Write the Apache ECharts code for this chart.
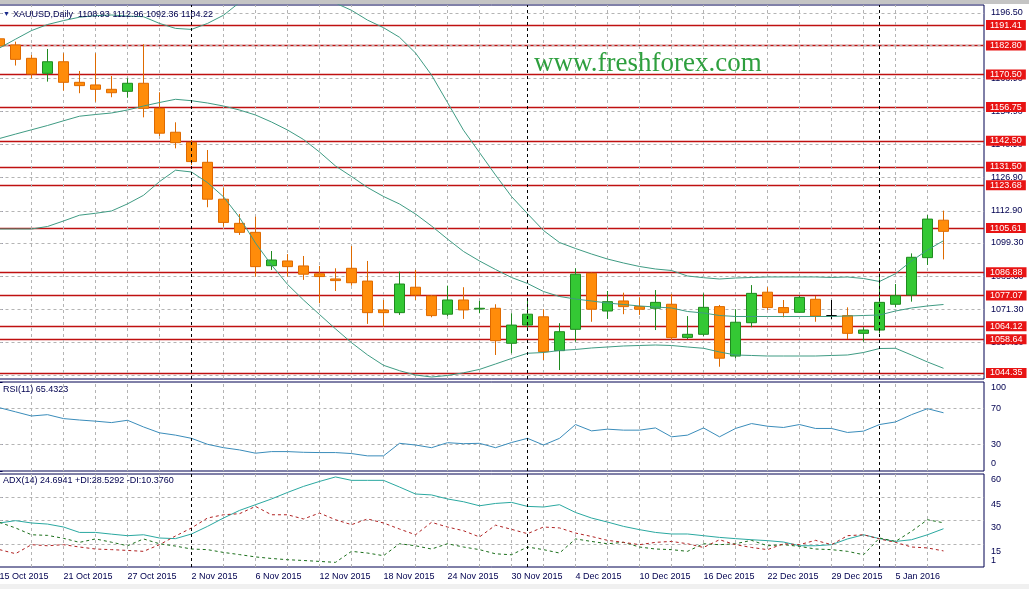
<!DOCTYPE html>
<html><head><meta charset="utf-8">
<script src="https://cdn.jsdelivr.net/npm/echarts@6/dist/echarts.min.js"></script>
<style>html,body{margin:0;padding:0;background:#fff;}#c{width:1029px;height:589px;}</style>
</head><body><div id="c"></div>
<script>
const dates = ['15 Oct 2015','16 Oct 2015','19 Oct 2015','20 Oct 2015','21 Oct 2015','22 Oct 2015','23 Oct 2015','26 Oct 2015','27 Oct 2015','28 Oct 2015','29 Oct 2015','30 Oct 2015',
'2 Nov 2015','3 Nov 2015','4 Nov 2015','5 Nov 2015','6 Nov 2015','9 Nov 2015','10 Nov 2015','11 Nov 2015','12 Nov 2015','13 Nov 2015','16 Nov 2015','17 Nov 2015','18 Nov 2015','19 Nov 2015','20 Nov 2015','23 Nov 2015','24 Nov 2015','25 Nov 2015','26 Nov 2015','27 Nov 2015','30 Nov 2015',
'1 Dec 2015','2 Dec 2015','3 Dec 2015','4 Dec 2015','7 Dec 2015','8 Dec 2015','9 Dec 2015','10 Dec 2015','11 Dec 2015','14 Dec 2015','15 Dec 2015','16 Dec 2015','17 Dec 2015','18 Dec 2015','21 Dec 2015','22 Dec 2015','23 Dec 2015','24 Dec 2015','28 Dec 2015','29 Dec 2015','30 Dec 2015','31 Dec 2015',
'4 Jan 2016','5 Jan 2016','6 Jan 2016','7 Jan 2016','8 Jan 2016'];
const opens  = [1185.6,1183.0,1177.35,1171.0,1175.9,1167.2,1166.1,1164.25,1163.4,1166.8,1156.2,1146.1,1141.85,1133.4,1117.8,1107.6,1103.8,1089.7,1091.7,1089.6,1086.3,1084.1,1088.6,1083.2,1071.0,1069.85,1080.6,1076.9,1069.2,1075.2,1071.4,1071.7,1056.9,1064.6,1068.1,1053.8,1062.8,1086.5,1070.55,1074.8,1072.4,1071.7,1073.4,1059.4,1060.7,1072.4,1051.5,1065.6,1078.5,1072.0,1070.0,1075.5,1068.6,1068.6,1061.1,1062.5,1073.4,1077.3,1093.1,1108.93];
const closes = [1182.6,1176.9,1170.7,1175.9,1167.2,1165.8,1164.25,1162.8,1166.8,1156.2,1145.7,1141.7,1133.7,1117.8,1108.0,1103.8,1089.3,1092.1,1089.3,1086.1,1085.1,1083.4,1082.5,1069.85,1069.85,1081.96,1077.3,1068.6,1075.2,1071.0,1071.7,1058.0,1064.6,1069.2,1053.35,1061.8,1086.1,1071.3,1074.5,1072.4,1071.3,1074.2,1059.3,1060.7,1072.1,1050.6,1065.8,1078.0,1072.0,1069.85,1076.3,1068.4,1068.6,1061.1,1062.5,1074.2,1077.0,1093.25,1109.4,1104.22];
const lows   = [1181.5,1174.3,1168.9,1167.5,1163.7,1162.6,1159.0,1160.9,1160.7,1152.4,1144.5,1139.3,1132.3,1114.4,1106.2,1102.7,1085.1,1087.9,1085.1,1083.7,1073.8,1079.0,1081.25,1065.1,1063.9,1068.9,1075.2,1067.9,1068.4,1067.2,1069.6,1051.96,1052.7,1062.5,1049.85,1045.6,1057.6,1066.0,1067.2,1069.2,1068.9,1062.5,1058.3,1058.7,1060.0,1047.0,1050.6,1063.7,1071.0,1067.9,1069.85,1066.0,1067.05,1058.7,1057.6,1061.1,1072.1,1074.5,1090.0,1092.36];
const highs  = [1187.5,1184.4,1178.75,1181.3,1179.5,1172.0,1179.5,1169.9,1168.9,1183.3,1163.0,1150.3,1142.8,1138.6,1122.8,1111.55,1110.4,1095.9,1094.6,1093.8,1089.6,1088.6,1098.0,1091.7,1075.2,1087.2,1087.9,1077.3,1081.25,1080.6,1074.8,1073.4,1069.6,1075.5,1071.3,1065.4,1088.6,1086.8,1079.0,1078.3,1076.35,1079.4,1077.7,1068.4,1078.0,1073.1,1071.3,1081.5,1080.6,1075.2,1076.9,1076.9,1075.2,1072.1,1063.7,1086.5,1081.96,1094.9,1111.1,1112.96];
const bbUpper  = [1181.71,1185.43,1189.07,1191.63,1193.29,1194.72,1195.35,1195.66,1195.18,1194.93,1192.1,1190.0,1189.56,1192.1,1195.56,1200.93,1207.49,1210.87,1212.3,1210.88,1206.43,1200.69,1197.64,1193.5,1190.3,1186.24,1179.6,1170.3,1158.67,1146.97,1137.51,1128.03,1118.94,1111.68,1104.57,1099.5,1096.96,1094.64,1092.52,1090.84,1089.37,1088.3,1087.67,1085.34,1084.63,1084.07,1084.5,1084.71,1084.93,1084.93,1084.93,1084.93,1084.71,1084.92,1084.29,1083.02,1086.31,1091.68,1096.34,1100.26];
const bbMiddle = [1143.46,1145.32,1147.14,1148.95,1150.94,1152.88,1153.6,1154.24,1155.5,1157.19,1158.67,1160.03,1159.43,1158.46,1157.19,1155.5,1153.39,1150.43,1147.05,1143.04,1137.75,1131.84,1127.4,1122.75,1118.95,1115.78,1111.55,1106.48,1100.98,1095.7,1091.69,1088.09,1084.71,1082.18,1078.79,1076.68,1075.62,1074.78,1073.93,1073.3,1072.67,1072.24,1071.82,1070.34,1069.71,1068.65,1068.23,1068.23,1068.23,1068.23,1068.23,1068.23,1068.23,1068.44,1068.65,1068.86,1070.55,1071.82,1072.67,1073.3];
const bbLower  = [1105.21,1105.21,1105.21,1106.27,1108.59,1111.04,1111.85,1112.82,1115.82,1119.45,1125.24,1130.06,1129.3,1124.82,1118.82,1110.07,1099.29,1089.99,1081.8,1075.2,1069.07,1062.99,1057.16,1052.0,1047.6,1045.32,1043.5,1042.66,1043.29,1044.43,1045.87,1048.15,1050.48,1052.68,1053.01,1053.86,1054.28,1054.92,1055.34,1055.76,1055.97,1056.18,1055.97,1055.34,1054.79,1053.23,1051.96,1051.75,1051.53,1051.53,1051.53,1051.53,1051.75,1051.96,1053.01,1054.7,1054.79,1051.96,1049.0,1046.34];
const rsi = [71.1,66.5,61.8,63.3,58.9,57.3,56.0,54.4,57.0,49.5,42.9,40.3,36.7,30.0,26.2,23.7,20.0,21.8,21.8,21.0,20.7,20.7,19.6,17.0,17.0,31.1,29.2,26.2,31.8,30.7,31.1,26.2,32.0,36.7,29.2,36.7,52.2,45.1,47.0,45.9,45.9,48.4,38.4,40.3,48.4,38.4,47.8,53.3,50.3,48.9,52.2,47.8,47.8,43.3,44.8,52.2,55.1,63.3,70.0,65.43];
const adx = [28.4,29.9,28.4,27.7,25.8,22.3,22.3,21.2,20.2,20.8,18.7,18.3,21.3,26.2,31.6,36.5,40.2,43.9,48.1,52.0,55.2,58.1,55.9,55.9,55.9,51.6,47.1,46.5,43.9,42.1,39.5,41.0,41.7,39.1,38.7,40.2,35.2,31.6,29.0,26.2,24.1,22.3,21.3,21.3,20.2,19.1,18.3,17.6,17.0,16.1,13.7,13.7,14.4,18.1,20.8,18.3,16.5,17.6,20.8,24.69];
const plusDI = [28.8,25.2,20.8,20.4,18.5,15.9,18.1,16.0,13.7,18.1,15.0,13.5,11.6,11.2,9.4,8.0,6.5,5.5,4.7,4.2,3.6,3.0,10.1,9.0,7.3,15.0,13.7,11.6,15.0,12.9,11.2,8.5,7.9,12.9,11.2,9.0,18.1,16.5,15.0,15.9,12.9,11.6,11.2,10.1,15.0,14.4,15.0,17.2,13.7,14.4,13.3,11.6,11.2,10.1,7.9,18.7,16.5,23.0,30.5,28.53];
const minusDI = [11.2,8.6,14.4,13.7,14.4,12.9,11.6,11.2,10.7,10.1,14.4,20.0,25.2,31.6,33.7,34.4,39.1,33.7,33.7,31.0,34.8,30.5,27.3,31.0,28.4,24.5,20.8,28.8,25.8,23.4,19.4,27.0,24.3,21.5,25.8,25.2,21.9,19.7,17.2,15.9,14.4,15.9,16.5,15.0,12.6,17.6,14.4,12.6,11.2,15.0,14.4,17.2,14.4,20.2,20.8,18.1,15.9,12.9,12.3,10.38];
const levels = [1191.41,1182.80,1170.50,1156.75,1142.50,1131.50,1123.68,1105.61,1086.88,1077.07,1064.12,1058.64,1044.35];
const lastPrice = 1104.22;
const priceTicks = [1196.5,1182.7,1168.9,1154.9,1140.9,1126.9,1112.9,1099.3,1085.3,1071.3,1057.3,1043.3];
const rsiTicks = [0,30,70,100];
const rsiGrid = [30,70];
const adxGridTicks = [15,30,45];
const adxLabelTicks = [1,15,30,45,60];
const labelIdx = [0,4,8,12,16,20,24,28,32,36,40,44,48,52,56];

const FONT = 'Liberation Sans';
const NAVY = '#000050';
const XMAX = 61.53125;
const P_MIN = 1041.81, P_MAX = 1199.88;
const sepIdx = dates.map((d,i)=> (i>0 && d.split(' ')[1] !== dates[i-1].split(' ')[1]) ? i : -1).filter(i=>i>=0);
const vGridIdx = dates.map((d,i)=>i).filter(i=>i%2===0 && i>0);

const candleData = dates.map((d,i)=>{
  const it = {value:[i, opens[i], closes[i], lows[i], highs[i]]};
  if (opens[i] === closes[i]) it.itemStyle = {color:'#000', color0:'#000', borderColor:'#000', borderColor0:'#000'};
  return it;
});
const pts = arr => arr.map((v,i)=>[i,v]);
// vertical grid segments, broken with nulls, spanning the axis range
function vSegs(lo, hi){
  const out = [];
  vGridIdx.forEach(i=>{ out.push([i, lo]); out.push([i, hi]); out.push([i, null]); });
  return out;
}
const vGridStyle = {color:'#b4b4b4', type:[3,3], width:1};
function vGridSeries(gi, lo, hi){
  return {type:'line', xAxisIndex:gi, yAxisIndex:gi, data:vSegs(lo,hi), showSymbol:false, connectNulls:false,
    silent:true, z:2, lineStyle:vGridStyle};
}
const sepMark = {silent:true, symbol:'none', animation:false, z:6, label:{show:false},
  lineStyle:{color:'#000', type:[3,3], width:1}, data: sepIdx.map(i=>({xAxis:i}))};
function gridMark(hVals){
  return {silent:true, symbol:'none', animation:false, z:2, label:{show:false},
    lineStyle:{color:'#b4b4b4', type:[3,3], width:1},
    data: hVals.map(v=>({yAxis:v}))};
}

function xAx(gi, show){
  return {type:'value', gridIndex:gi, min:0, max:XMAX, interval:2,
    axisLine:{show:false}, axisTick:{show:false},
    axisLabel:{show:show, customValues: labelIdx, formatter: v => dates[v] || '', align:'left', margin:5,
      color:NAVY, fontSize:9, fontFamily:FONT, hideOverlap:false},
    splitLine:{show:false}};
}
function yAx(gi, min, max, tickVals, labelVals, fmt, rich){
  return {type:'value', gridIndex:gi, position:'right', min:min, max:max,
    axisLine:{show:true, lineStyle:{color:NAVY}},
    axisTick:{show:true, length:3, customValues: tickVals, lineStyle:{color:NAVY}},
    axisLabel:{customValues: labelVals, formatter: fmt, margin:7, color:NAVY, fontSize:9, fontFamily:FONT, hideOverlap:false, rich: rich||{}},
    splitLine:{show:false}};
}
const rs = (p) => ({padding:p, color:NAVY, fontSize:9, lineHeight:9, fontFamily:FONT});
const gridBase = {left:-0.5, width:984.5, show:true, backgroundColor:'transparent', borderColor:NAVY, borderWidth:1, containLabel:false, outerBoundsMode:'none'};

const option = {
  animation:false,
  backgroundColor:'#ffffff',
  title:[
    {text:'▼', left:3, top:11, padding:0, textStyle:{fontSize:7, color:'#1a2a8c', fontWeight:'normal'}},
    {text:'XAUUSD,Daily  1108.93 1112.96 1092.36 1104.22', left:13, top:10, padding:0, textStyle:{fontSize:9, color:NAVY, fontFamily:FONT, fontWeight:'normal'}},
    {text:'RSI(11) 65.4323', left:3, top:385, padding:0, textStyle:{fontSize:9, color:NAVY, fontFamily:FONT, fontWeight:'normal'}},
    {text:'ADX(14) 24.6941 +DI:28.5292 -DI:10.3760', left:3, top:476, padding:0, textStyle:{fontSize:9, color:NAVY, fontFamily:FONT, fontWeight:'normal'}},
    {text:'www.freshforex.com', left:534, top:50, padding:0, textStyle:{fontSize:27, color:'#2e9f3e', fontFamily:'Liberation Serif', fontWeight:'normal'}}
  ],
  graphic:[
    {type:'rect', left:0, top:0, shape:{width:1029, height:4}, style:{fill:'#c4c4c4'}, silent:true},
    {type:'rect', left:0, top:584, shape:{width:1029, height:5}, style:{fill:'#f0f0f0'}, silent:true}
  ],
  grid:[
    Object.assign({top:5, height:374}, gridBase),
    Object.assign({top:382, height:89}, gridBase),
    Object.assign({top:474, height:93}, gridBase)
  ],
  xAxis:[xAx(0,false), xAx(1,false), xAx(2,true)],
  yAxis:[
    yAx(0, P_MIN, P_MAX, priceTicks, priceTicks, v=>v.toFixed(2)),
    yAx(1, 0, 100, rsiTicks, rsiTicks, v=> v===100 ? '{t|100}' : (v===0 ? '{b|0}' : '{m|'+v+'}'),
        {t:rs([12,0,0,0]), b:rs([0,0,14,0]), m:rs([0,0,0,0])}),
    yAx(2, 0, 60, adxGridTicks, adxLabelTicks, v=> v===1 ? '{b|1}' : (v===60 ? '{t|60}' : '{d|'+v+'}'),
        {t:rs([12,0,0,0]), d:rs([15,0,0,0]), b:rs([0,0,9,0])})
  ],
  series:[
    vGridSeries(0, P_MIN, P_MAX),
    vGridSeries(1, 0, 100),
    vGridSeries(2, 0, 60),
    {type:'candlestick', xAxisIndex:0, yAxisIndex:0, barWidth:10, z:3,
      itemStyle:{color:'#34c834', color0:'#ff8c0a', borderColor:'#1f8a1f', borderColor0:'#de6a00', borderWidth:1},
      data:candleData,
      markLine:{silent:true, symbol:'none', animation:false, z:2,
        lineStyle:{color:'#bf1010', width:1.3, type:'solid'},
        label:{position:'end', distance:2, formatter:p=>p.value.toFixed(2), backgroundColor:'#e81414', color:'#fff',
          padding:[1,4,0,4], fontSize:9, fontFamily:FONT},
        data:[{yAxis:lastPrice, lineStyle:{opacity:0}, label:{backgroundColor:'#000040', color:'#fff'}}].concat(levels.map(v=>({yAxis:v})))
      }
    },
    {type:'line', xAxisIndex:0, yAxisIndex:0, data:pts(bbUpper), showSymbol:false, z:4, lineStyle:{color:'#3f9b83', width:1}, markLine:gridMark(priceTicks)},
    {type:'line', xAxisIndex:0, yAxisIndex:0, data:pts(bbMiddle), showSymbol:false, z:4, lineStyle:{color:'#3f9b83', width:1}, markLine:sepMark},
    {type:'line', xAxisIndex:0, yAxisIndex:0, data:pts(bbLower), showSymbol:false, z:4, lineStyle:{color:'#3f9b83', width:1}},
    {type:'line', xAxisIndex:1, yAxisIndex:1, data:pts(rsi), showSymbol:false, z:4, lineStyle:{color:'#3a8cba', width:1}, markLine:sepMark},
    {type:'line', xAxisIndex:1, yAxisIndex:1, data:pts(rsi), showSymbol:false, z:1, lineStyle:{opacity:0}, markLine:gridMark(rsiGrid)},
    {type:'line', xAxisIndex:2, yAxisIndex:2, data:pts(adx), showSymbol:false, z:4, lineStyle:{color:'#2aa8a0', width:1}, markLine:sepMark},
    {type:'line', xAxisIndex:2, yAxisIndex:2, data:pts(plusDI), showSymbol:false, z:4, lineStyle:{color:'#1a6e1a', width:1, type:[3,3]}, markLine:gridMark(adxGridTicks)},
    {type:'line', xAxisIndex:2, yAxisIndex:2, data:pts(minusDI), showSymbol:false, z:4, lineStyle:{color:'#b02222', width:1, type:[3,3]}}
  ]
};
const chart = echarts.init(document.getElementById('c'));
chart.setOption(option);
</script></body></html>
